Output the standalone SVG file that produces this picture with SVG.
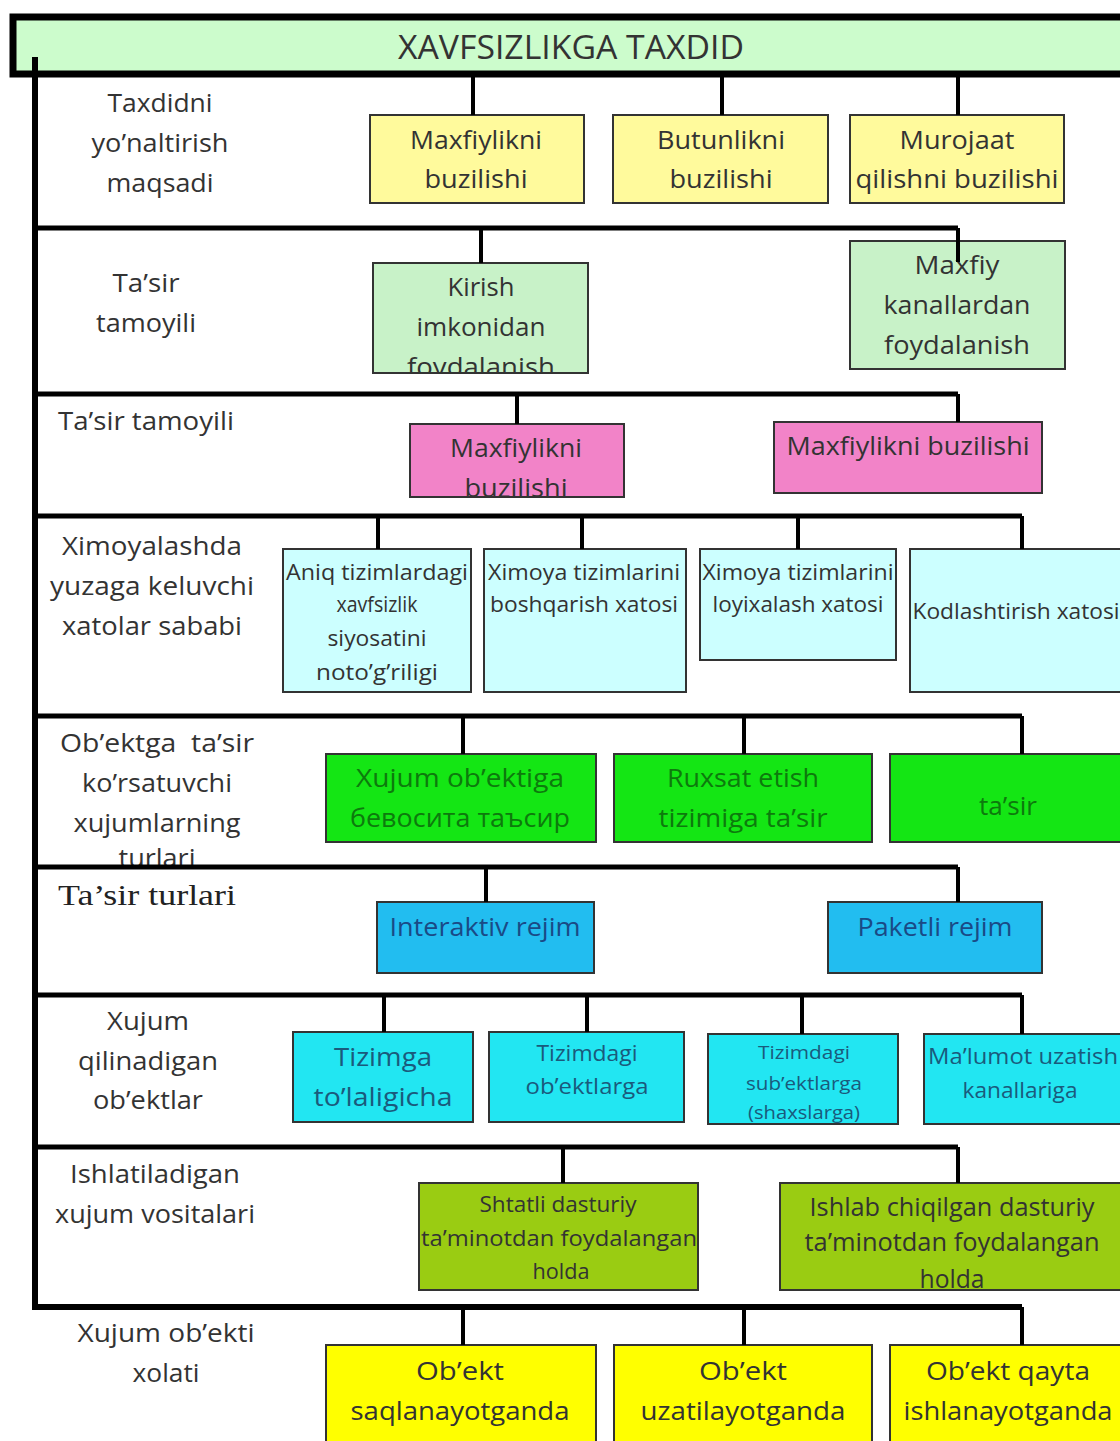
<svg xmlns="http://www.w3.org/2000/svg" width="1120" height="1441" viewBox="0 0 1120 1441">
<style>
.bus{stroke:#000;stroke-width:5;fill:none}
.drop{stroke:#000;stroke-width:4;fill:none}
.box{stroke:#333;stroke-width:2}
.t{font-family:"Open Sans","Noto Sans",sans-serif;font-size:26px;text-anchor:middle;dominant-baseline:central;fill:#333}
.s22{font-size:22px}
.s21{font-size:21px}
.s19{font-size:19px}
.s25{font-size:25px}
.g{fill:#0d7a0d}
.b{fill:#1a4a86}
.c{fill:#1a5a7c}
.y1{fill:#fffa9c}
.lg{fill:#c8f2c8}
.pk{fill:#f283c8}
.lc{fill:#ccffff}
.gr{fill:#14e614}
.bl{fill:#22bdf0}
.cy{fill:#22e6f2}
.ol{fill:#9acc12}
.ye{fill:#ffff00}
</style>
<defs>
<clipPath id="clipKirish"><rect x="373" y="263" width="215" height="110"/></clipPath>
<clipPath id="clipPink1"><rect x="410" y="424" width="214" height="73"/></clipPath>
<clipPath id="clipRow5"><rect x="38" y="720" width="280" height="145"/></clipPath>
<clipPath id="clipShax"><rect x="708" y="1034" width="190" height="90"/></clipPath>
</defs>
<rect width="1120" height="1441" fill="#fff"/>

<g id="title">
<rect x="13" y="17" width="1115" height="57" fill="#ccfccc" stroke="#000" stroke-width="7"/>
<text class="t" x="571" y="46" style="font-size:33px" textLength="346" lengthAdjust="spacingAndGlyphs">XAVFSIZLIKGA TAXDID</text>
</g>

<!-- Row 1 -->
<g id="label1">
<text class="t" x="160" y="102" textLength="105" lengthAdjust="spacingAndGlyphs">Taxdidni</text>
<text class="t" x="160" y="142" textLength="137" lengthAdjust="spacingAndGlyphs">yo’naltirish</text>
<text class="t" x="160" y="182" textLength="107" lengthAdjust="spacingAndGlyphs">maqsadi</text>
</g>
<g id="n1a"><rect class="box y1" x="370" y="115" width="214" height="88"/>
<text class="t" x="476" y="139" textLength="132" lengthAdjust="spacingAndGlyphs">Maxfiylikni</text>
<text class="t" x="476" y="178" textLength="103" lengthAdjust="spacingAndGlyphs">buzilishi</text></g>
<g id="n1b"><rect class="box y1" x="613" y="115" width="215" height="88"/>
<text class="t" x="721" y="139" textLength="128" lengthAdjust="spacingAndGlyphs">Butunlikni</text>
<text class="t" x="721" y="178" textLength="103" lengthAdjust="spacingAndGlyphs">buzilishi</text></g>
<g id="n1c"><rect class="box y1" x="850" y="115" width="214" height="88"/>
<text class="t" x="957" y="139" textLength="115" lengthAdjust="spacingAndGlyphs">Murojaat</text>
<text class="t" x="957" y="178" textLength="203" lengthAdjust="spacingAndGlyphs">qilishni buzilishi</text></g>

<!-- Row 2 -->
<g id="label2">
<text class="t" x="146" y="282" textLength="67" lengthAdjust="spacingAndGlyphs">Ta’sir</text>
<text class="t" x="146" y="322" textLength="100" lengthAdjust="spacingAndGlyphs">tamoyili</text>
</g>
<g id="n2a"><rect class="box lg" x="373" y="263" width="215" height="110"/>
<g clip-path="url(#clipKirish)">
<text class="t" x="481" y="286" textLength="67" lengthAdjust="spacingAndGlyphs">Kirish</text>
<text class="t" x="481" y="326" textLength="129" lengthAdjust="spacingAndGlyphs">imkonidan</text>
<text class="t" x="481" y="366" textLength="148" lengthAdjust="spacingAndGlyphs">foydalanish</text></g>
<line x1="373" y1="373" x2="588" y2="373" stroke="#333" stroke-width="2"/></g>
<g id="n2b"><rect class="box lg" x="850" y="241" width="215" height="128"/>
<text class="t" x="957" y="264" textLength="85" lengthAdjust="spacingAndGlyphs">Maxfiy</text>
<text class="t" x="957" y="304" textLength="147" lengthAdjust="spacingAndGlyphs">kanallardan</text>
<text class="t" x="957" y="344" textLength="146" lengthAdjust="spacingAndGlyphs">foydalanish</text></g>

<!-- Row 3 -->
<g id="label3">
<text class="t" x="146" y="420" textLength="176" lengthAdjust="spacingAndGlyphs">Ta’sir tamoyili</text>
</g>
<g id="n3a"><rect class="box pk" x="410" y="424" width="214" height="73"/>
<g clip-path="url(#clipPink1)">
<text class="t" x="516" y="447" textLength="132" lengthAdjust="spacingAndGlyphs">Maxfiylikni</text>
<text class="t" x="516" y="487" textLength="103" lengthAdjust="spacingAndGlyphs">buzilishi</text></g>
<line x1="410" y1="497" x2="624" y2="497" stroke="#333" stroke-width="2"/></g>
<g id="n3b"><rect class="box pk" x="774" y="422" width="268" height="71"/>
<text class="t" x="908" y="445" textLength="243" lengthAdjust="spacingAndGlyphs">Maxfiylikni buzilishi</text></g>

<!-- Row 4 -->
<g id="label4">
<text class="t" x="152" y="545" textLength="180" lengthAdjust="spacingAndGlyphs">Ximoyalashda</text>
<text class="t" x="152" y="585" textLength="204" lengthAdjust="spacingAndGlyphs">yuzaga keluvchi</text>
<text class="t" x="152" y="625" textLength="180" lengthAdjust="spacingAndGlyphs">xatolar sababi</text>
</g>
<g id="n4a"><rect class="box lc" x="283" y="549" width="188" height="143"/>
<text class="t s22" x="377" y="571" textLength="182" lengthAdjust="spacingAndGlyphs">Aniq tizimlardagi</text>
<text class="t s22" x="377" y="603" textLength="81" lengthAdjust="spacingAndGlyphs">xavfsizlik</text>
<text class="t s22" x="377" y="637" textLength="99" lengthAdjust="spacingAndGlyphs">siyosatini</text>
<text class="t s22" x="377" y="671" textLength="122" lengthAdjust="spacingAndGlyphs">noto’g’riligi</text></g>
<g id="n4b"><rect class="box lc" x="484" y="549" width="202" height="143"/>
<text class="t s22" x="584" y="571" textLength="192" lengthAdjust="spacingAndGlyphs">Ximoya tizimlarini</text>
<text class="t s22" x="584" y="603" textLength="188" lengthAdjust="spacingAndGlyphs">boshqarish xatosi</text></g>
<g id="n4c"><rect class="box lc" x="700" y="549" width="196" height="111"/>
<text class="t s22" x="798" y="571" textLength="191" lengthAdjust="spacingAndGlyphs">Ximoya tizimlarini</text>
<text class="t s22" x="798" y="603" textLength="171" lengthAdjust="spacingAndGlyphs">loyixalash xatosi</text></g>
<g id="n4d"><rect class="box lc" x="910" y="549" width="215" height="143"/>
<text class="t s22" x="1016" y="610" textLength="207" lengthAdjust="spacingAndGlyphs">Kodlashtirish xatosi</text></g>

<!-- Row 5 -->
<g id="label5" clip-path="url(#clipRow5)">
<text class="t" x="157" y="742" style="white-space:pre" textLength="194" lengthAdjust="spacingAndGlyphs">Ob’ektga  ta’sir</text>
<text class="t" x="157" y="782" textLength="150" lengthAdjust="spacingAndGlyphs">ko’rsatuvchi</text>
<text class="t" x="157" y="822" textLength="167" lengthAdjust="spacingAndGlyphs">xujumlarning</text>
<text class="t" x="157" y="857" textLength="77" lengthAdjust="spacingAndGlyphs">turlari</text>
</g>
<g id="n5a"><rect class="box gr" x="326" y="754" width="270" height="88"/>
<text class="t g" x="460" y="777" textLength="208" lengthAdjust="spacingAndGlyphs">Xujum ob’ektiga</text>
<text class="t g" x="460" y="817" textLength="220" lengthAdjust="spacingAndGlyphs">бевосита таъсир</text></g>
<g id="n5b"><rect class="box gr" x="614" y="754" width="258" height="88"/>
<text class="t g" x="743" y="777" textLength="152" lengthAdjust="spacingAndGlyphs">Ruxsat etish</text>
<text class="t g" x="743" y="817" textLength="169" lengthAdjust="spacingAndGlyphs">tizimiga ta’sir</text></g>
<g id="n5c"><rect class="box gr" x="890" y="754" width="235" height="88"/>
<text class="t g" x="1008" y="805" textLength="58" lengthAdjust="spacingAndGlyphs">ta’sir</text></g>

<!-- Row 6 -->
<g id="label6">
<text x="58" y="894" style="font-family:'Liberation Serif','Times New Roman',serif;font-size:30px;fill:#222;dominant-baseline:central" textLength="178" lengthAdjust="spacingAndGlyphs">Ta’sir turlari</text>
</g>
<g id="n6a"><rect class="box bl" x="377" y="902" width="217" height="71"/>
<text class="t b" x="485" y="926" textLength="191" lengthAdjust="spacingAndGlyphs">Interaktiv rejim</text></g>
<g id="n6b"><rect class="box bl" x="828" y="902" width="214" height="71"/>
<text class="t b" x="935" y="926" textLength="155" lengthAdjust="spacingAndGlyphs">Paketli rejim</text></g>

<!-- Row 7 -->
<g id="label7">
<text class="t" x="148" y="1020" textLength="82" lengthAdjust="spacingAndGlyphs">Xujum</text>
<text class="t" x="148" y="1060" textLength="140" lengthAdjust="spacingAndGlyphs">qilinadigan</text>
<text class="t" x="148" y="1099" textLength="110" lengthAdjust="spacingAndGlyphs">ob’ektlar</text>
</g>
<g id="n7a"><rect class="box cy" x="293" y="1032" width="180" height="90"/>
<text class="t c" x="383" y="1056" textLength="98" lengthAdjust="spacingAndGlyphs">Tizimga</text>
<text class="t c" x="383" y="1096" textLength="139" lengthAdjust="spacingAndGlyphs">to’laligicha</text></g>
<g id="n7b"><rect class="box cy" x="489" y="1032" width="195" height="90"/>
<text class="t c s21" x="587" y="1053" textLength="101" lengthAdjust="spacingAndGlyphs">Tizimdagi</text>
<text class="t c s21" x="587" y="1086" textLength="123" lengthAdjust="spacingAndGlyphs">ob’ektlarga</text></g>
<g id="n7c"><rect class="box cy" x="708" y="1034" width="190" height="90"/>
<g clip-path="url(#clipShax)">
<text class="t c s19" x="804" y="1052" textLength="92" lengthAdjust="spacingAndGlyphs">Tizimdagi</text>
<text class="t c s19" x="804" y="1083" textLength="116" lengthAdjust="spacingAndGlyphs">sub’ektlarga</text>
<text class="t c s19" x="804" y="1112" textLength="112" lengthAdjust="spacingAndGlyphs">(shaxslarga)</text></g>
<line x1="708" y1="1124" x2="898" y2="1124" stroke="#333" stroke-width="2"/></g>
<g id="n7d"><rect class="box cy" x="924" y="1034" width="200" height="90"/>
<text class="t c s21" x="1023" y="1056" textLength="190" lengthAdjust="spacingAndGlyphs">Ma’lumot uzatish</text>
<text class="t c s21" x="1020" y="1090" textLength="115" lengthAdjust="spacingAndGlyphs">kanallariga</text></g>

<!-- Row 8 -->
<g id="label8">
<text class="t" x="155" y="1173" textLength="170" lengthAdjust="spacingAndGlyphs">Ishlatiladigan</text>
<text class="t" x="155" y="1213" textLength="200" lengthAdjust="spacingAndGlyphs">xujum vositalari</text>
</g>
<g id="n8a"><rect class="box ol" x="419" y="1183" width="279" height="107"/>
<text class="t s22" x="558" y="1203" textLength="157" lengthAdjust="spacingAndGlyphs">Shtatli dasturiy</text>
<text class="t s22" x="559" y="1237" textLength="276" lengthAdjust="spacingAndGlyphs">ta’minotdan foydalangan</text>
<text class="t s22" x="561" y="1270" textLength="57" lengthAdjust="spacingAndGlyphs">holda</text></g>
<g id="n8b"><rect class="box ol" x="780" y="1183" width="345" height="107"/>
<text class="t s25" x="952" y="1206" textLength="285" lengthAdjust="spacingAndGlyphs">Ishlab chiqilgan dasturiy</text>
<text class="t s25" x="952" y="1241" textLength="295" lengthAdjust="spacingAndGlyphs">ta’minotdan foydalangan</text>
<text class="t s25" x="952" y="1278" textLength="65" lengthAdjust="spacingAndGlyphs">holda</text></g>

<!-- Row 9 -->
<g id="label9">
<text class="t" x="166" y="1332" textLength="177" lengthAdjust="spacingAndGlyphs">Xujum ob’ekti</text>
<text class="t" x="166" y="1372" textLength="67" lengthAdjust="spacingAndGlyphs">xolati</text>
</g>
<g id="n9a"><rect class="box ye" x="326" y="1345" width="270" height="100"/>
<text class="t" x="460" y="1370" textLength="88" lengthAdjust="spacingAndGlyphs">Ob’ekt</text>
<text class="t" x="460" y="1410" textLength="219" lengthAdjust="spacingAndGlyphs">saqlanayotganda</text></g>
<g id="n9b"><rect class="box ye" x="614" y="1345" width="258" height="100"/>
<text class="t" x="743" y="1370" textLength="88" lengthAdjust="spacingAndGlyphs">Ob’ekt</text>
<text class="t" x="743" y="1410" textLength="205" lengthAdjust="spacingAndGlyphs">uzatilayotganda</text></g>
<g id="n9c"><rect class="box ye" x="890" y="1345" width="235" height="100"/>
<text class="t" x="1008" y="1370" textLength="164" lengthAdjust="spacingAndGlyphs">Ob’ekt qayta</text>
<text class="t" x="1008" y="1410" textLength="209" lengthAdjust="spacingAndGlyphs">ishlanayotganda</text></g>

<g id="connectors">
<path class="bus" d="M35,57 V1307 H1022" stroke-linejoin="miter" style="stroke-width:6"/>
<path class="drop" d="M473,77 V115 M722,77 V115 M958,77 V115"/>
<path class="bus" d="M35,228 H958"/>
<path class="drop" d="M481,228 V263 M958,228 V262"/>
<path class="bus" d="M35,394 H958"/>
<path class="drop" d="M517,394 V424 M958,394 V422"/>
<path class="bus" d="M35,516 H1022"/>
<path class="drop" d="M378,516 V549 M582,516 V549 M798,516 V549 M1022,516 V549"/>
<path class="bus" d="M35,716 H1022"/>
<path class="drop" d="M463,716 V754 M744,716 V754 M1022,716 V754"/>
<path class="bus" d="M35,867 H958"/>
<path class="drop" d="M486,867 V902 M958,867 V902"/>
<path class="bus" d="M35,995 H1022"/>
<path class="drop" d="M384,995 V1032 M587,995 V1032 M802,995 V1034 M1022,995 V1034"/>
<path class="bus" d="M35,1147 H958"/>
<path class="drop" d="M563,1147 V1183 M958,1147 V1183"/>
<path class="drop" d="M463,1307 V1345 M744,1307 V1345 M1022,1307 V1345"/>
</g>
</svg>
